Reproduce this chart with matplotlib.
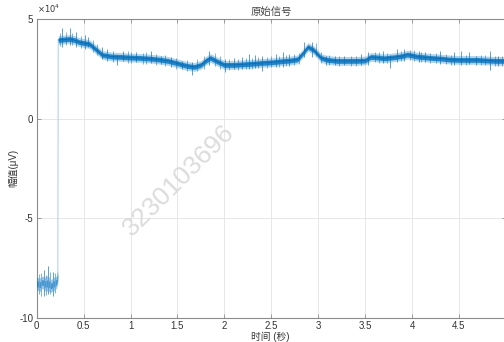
import numpy as np
import matplotlib
matplotlib.use('Agg')
import matplotlib.pyplot as plt

plt.rcParams['font.family'] = ['Liberation Sans', 'Noto Sans CJK SC', 'DejaVu Sans']

# 数据 (单位 1e4 μV)
t_pre = [0.0, 0.03, 0.06, 0.09, 0.12, 0.15, 0.18, 0.21, 0.225]
v_pre = [-8.25, -8.35, -8.2, -8.3, -8.25, -8.4, -8.3, -8.2, -7.95]
w_pre = [0.3, 0.35, 0.3, 0.35, 0.4, 0.3, 0.35, 0.3, 0.35]

t_main = [0.23, 0.3, 0.35, 0.4, 0.45, 0.5, 0.56, 0.6, 0.65, 0.7, 0.8, 0.9, 1.0,
          1.1, 1.2, 1.3, 1.4, 1.5, 1.6, 1.68, 1.75, 1.8, 1.85, 1.92, 2.0, 2.1,
          2.2, 2.3, 2.4, 2.5, 2.6, 2.7, 2.78, 2.84, 2.89, 2.95, 3.03, 3.1, 3.2,
          3.3, 3.4, 3.5, 3.56, 3.62, 3.7, 3.8, 3.9, 3.95, 4.05, 4.2, 4.3, 4.4,
          4.5, 4.6, 4.7, 4.8, 4.9, 5.0]
v_main = [3.95, 3.98, 4.0, 3.95, 3.85, 3.8, 3.75, 3.6, 3.4, 3.2, 3.12, 3.1, 3.07,
          3.05, 3.02, 2.97, 2.9, 2.78, 2.65, 2.6, 2.7, 2.9, 3.05, 2.88, 2.7, 2.7,
          2.73, 2.76, 2.8, 2.83, 2.88, 2.92, 2.98, 3.3, 3.6, 3.45, 3.05, 2.95, 2.9,
          2.9, 2.9, 2.92, 3.1, 3.08, 3.03, 3.08, 3.15, 3.22, 3.12, 3.05, 3.02, 2.97,
          2.95, 2.95, 2.95, 2.92, 2.9, 2.9]

# 大尖峰 (时间, 下端, 上端)
spike_t = [0.27, 0.35, 0.42, 0.52, 0.55, 0.70, 0.75, 0.86, 0.92, 1.06, 1.22, 1.32,
           1.43, 1.55, 1.66, 1.84, 2.01, 2.1, 2.19, 2.26, 2.33, 2.4, 2.55, 2.62,
           2.69, 2.85, 2.93, 3.08, 3.18, 3.27, 3.46, 3.53, 3.69, 3.77, 3.84, 3.91,
           4.07, 4.14, 4.3, 4.45, 4.52, 4.61, 4.68, 4.83, 4.92, 0.08, 0.12, 0.17]
spike_lo = [3.6, 3.7, 3.6, 3.5, 3.6, 3.0, 2.9, 2.72, 2.9, 2.85, 2.8, 2.75,
            2.6, 2.5, 2.18, 2.7, 2.33, 2.5, 2.5, 2.5, 2.55, 2.4, 2.6, 2.6,
            2.65, 3.1, 3.1, 2.7, 2.7, 2.7, 2.7, 2.7, 2.8, 2.53, 2.85, 2.9,
            2.85, 2.85, 2.75, 2.7, 2.7, 2.75, 2.7, 2.45, 2.65, -8.9, -8.8, -8.9]
spike_hi = [4.53, 4.57, 4.35, 4.2, 4.1, 3.6, 3.5, 3.2, 3.38, 3.33, 3.42, 3.17,
            3.08, 2.92, 2.83, 3.4, 3.0, 3.07, 3.1, 3.23, 3.2, 3.15, 3.25, 3.37,
            3.25, 3.87, 3.87, 3.17, 3.17, 3.17, 3.23, 3.35, 3.42, 3.2, 3.5, 3.5,
            3.42, 3.35, 3.42, 3.35, 3.38, 3.35, 3.17, 3.38, 3.17, -7.6, -7.4, -7.7]

# 小尖峰
small_t = [0.25, 0.31, 0.38, 0.47, 0.6, 0.64, 0.81, 0.97, 1.01, 1.13, 1.17, 1.27,
           1.37, 1.48, 1.6, 1.71, 1.78, 1.9, 1.95, 2.05, 2.14, 2.23, 2.29, 2.36,
           2.45, 2.5, 2.58, 2.66, 2.74, 2.8, 2.98, 3.03, 3.12, 3.22, 3.35, 3.4,
           3.6, 3.65, 3.73, 3.88, 3.98, 4.02, 4.1, 4.19, 4.25, 4.36, 4.41, 4.57,
           4.73, 4.78, 4.88, 4.96, 0.02, 0.05, 0.1, 0.14, 0.2]
small_lo = [3.65, 3.7, 3.7, 3.55, 3.35, 3.2, 2.85, 2.8, 2.8, 2.75, 2.75, 2.7,
            2.65, 2.5, 2.4, 2.4, 2.5, 2.65, 2.5, 2.45, 2.45, 2.5, 2.5, 2.55,
            2.55, 2.6, 2.6, 2.65, 2.7, 2.75, 3.15, 2.8, 2.7, 2.65, 2.65, 2.65,
            2.85, 2.8, 2.8, 2.9, 2.95, 2.9, 2.85, 2.8, 2.8, 2.75, 2.7, 2.7,
            2.7, 2.7, 2.65, 2.65, -8.8, -8.9, -8.85, -8.8, -8.75]
small_hi = [4.3, 4.35, 4.3, 4.15, 3.95, 3.75, 3.4, 3.4, 3.35, 3.3, 3.35, 3.25,
            3.2, 3.05, 2.95, 3.0, 3.15, 3.3, 3.15, 3.0, 3.0, 3.05, 3.05, 3.1,
            3.1, 3.15, 3.15, 3.2, 3.25, 3.3, 3.8, 3.35, 3.2, 3.15, 3.15, 3.15,
            3.35, 3.35, 3.3, 3.4, 3.45, 3.45, 3.35, 3.3, 3.3, 3.25, 3.2, 3.2,
            3.2, 3.2, 3.15, 3.15, -7.8, -7.75, -7.85, -7.7, -7.75]

x_ticks = [0, 0.5, 1, 1.5, 2, 2.5, 3, 3.5, 4, 4.5]
x_labels = ['0', '0.5', '1', '1.5', '2', '2.5', '3', '3.5', '4', '4.5']
y_ticks = [-10, -5, 0, 5]

sc = 1e4
blue = '#0072BD'

fig = plt.figure(figsize=(5.04, 3.42), dpi=100)
ax = fig.add_axes([0.0728, 0.0702, 0.931, 0.874])

tp = np.array(t_pre)
vp = np.array(v_pre) * sc
wp = np.array(w_pre) * sc
tm = np.array(t_main)
vm = np.array(v_main) * sc

# 跳变线
ax.plot([tp[-1], tm[0]], [vp[-1], vm[0]], color='#b5d3ee', lw=0.8, zorder=2)

# 噪声带
ax.fill_between(tp, vp - wp, vp + wp, color=blue, alpha=0.4, lw=0, zorder=3)
ax.fill_between(tp, vp - wp * 0.45, vp + wp * 0.45, color=blue, alpha=0.55, lw=0, zorder=3)
ax.vlines(small_t, np.array(small_lo) * sc, np.array(small_hi) * sc,
          color='#6aa8dc', lw=0.6, zorder=3)
ax.vlines(spike_t, np.array(spike_lo) * sc, np.array(spike_hi) * sc,
          color='#5a9fd8', lw=0.7, zorder=3)
ax.fill_between(tm, vm - 0.22 * sc, vm + 0.22 * sc, color=blue, alpha=0.3, lw=0, zorder=4)
ax.fill_between(tm, vm - 0.12 * sc, vm + 0.12 * sc, color=blue, alpha=0.8, lw=0, zorder=4)
ax.plot(tm, vm, color='#0b68b3', lw=0.6, zorder=5)

ax.set_xlim(0, 5)
ax.set_ylim(-10 * sc, 5 * sc)
ax.set_xticks(x_ticks)
ax.set_xticklabels(x_labels)
ax.set_yticks([v * sc for v in y_ticks])
ax.set_yticklabels([str(v) for v in y_ticks])

ax.grid(True, color='#e3e3e3', lw=0.6)
ax.set_axisbelow(True)
for s in ax.spines.values():
    s.set_color('#8c8c8c')
    s.set_linewidth(0.8)
ax.tick_params(direction='in', length=3, width=0.6, color='#8c8c8c',
               labelsize=7, labelcolor='#333333', top=True, right=True, pad=2.5)

ax.set_title('原始信号', fontsize=7.5, color='#444444', pad=3)
fig.text(0.537, 1 - 337 / 342, '时间 (秒)', fontsize=7, color='#333333',
         ha='center', va='center')
fig.text(13 / 504, 1 - 168 / 342, '幅值(μV)', fontsize=7, color='#333333',
         ha='center', va='center', rotation=90)
ax.text(0.0, 1.012, r'$\times10^4$', transform=ax.transAxes, fontsize=6,
        color='#333333', ha='left', va='bottom')

fig.text(0.355, 0.474, '3230103696', rotation=45, fontsize=19, color='#dcdcdc',
         ha='center', va='center', zorder=10)

fig.savefig('out.png', dpi=100)
